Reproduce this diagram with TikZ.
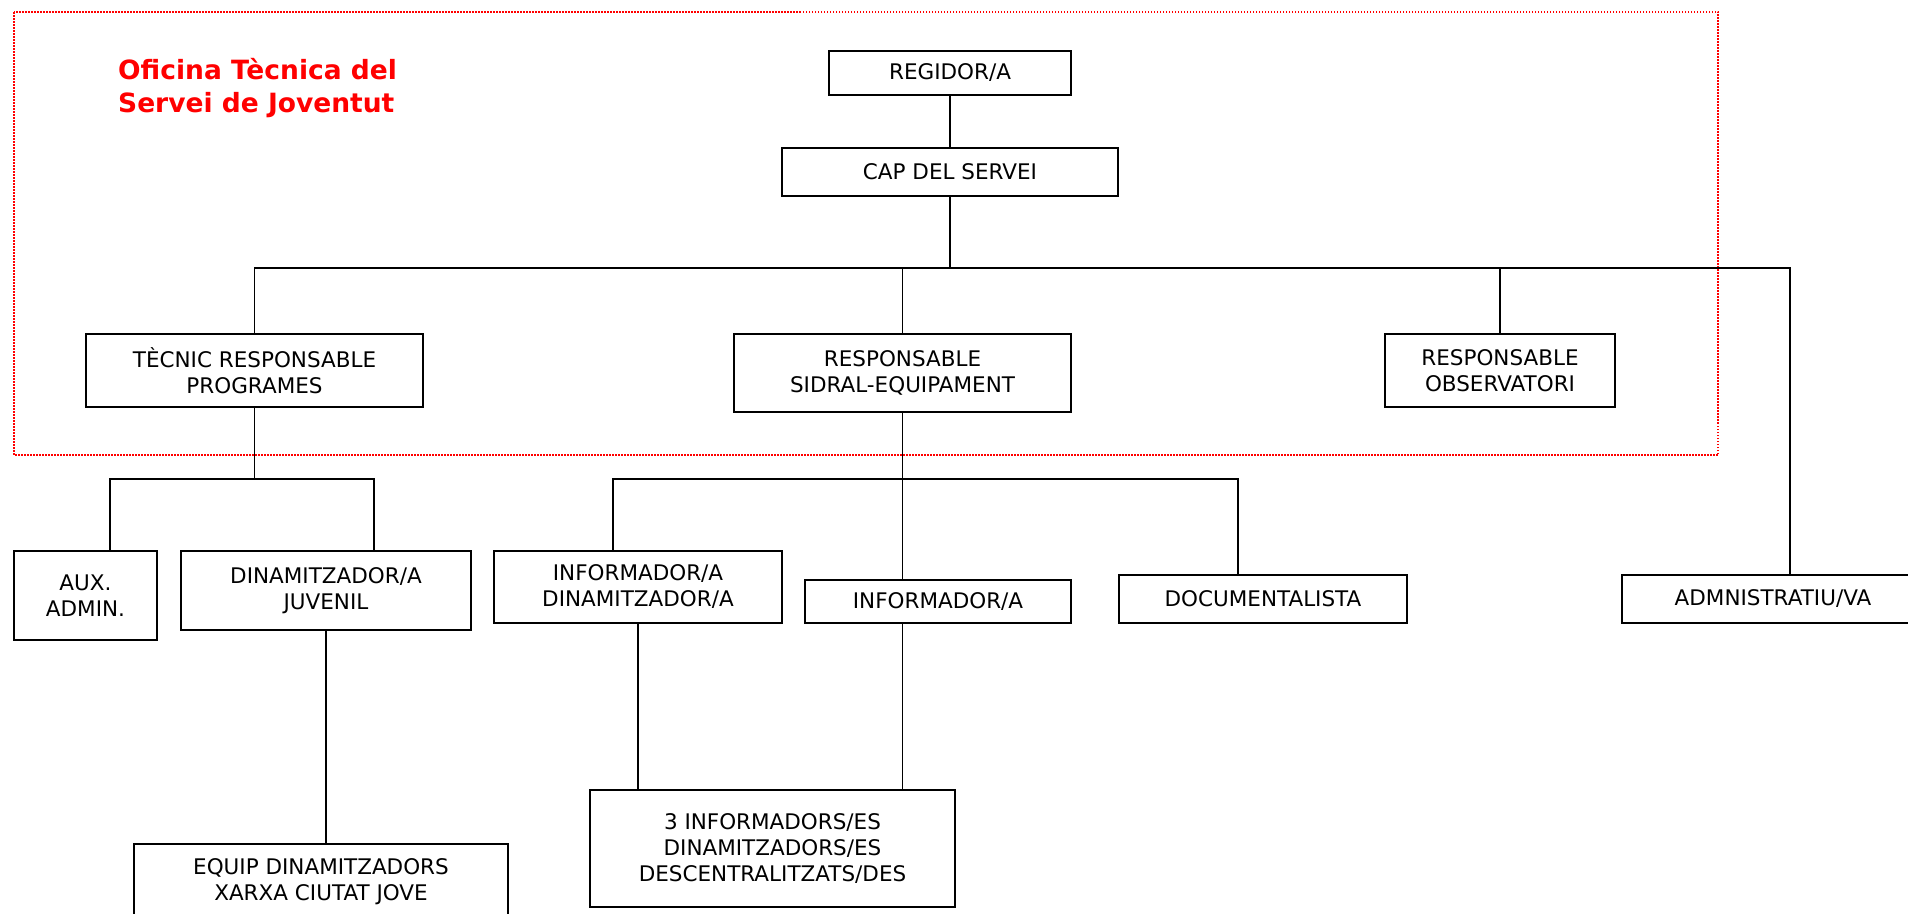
\documentclass[tikz,border=0pt]{standalone}
\usepackage{fontspec}
\setmainfont{DejaVu Sans}
\usepackage{tikz}

\begin{document}
\begin{tikzpicture}[x=1pt, y=-1pt,
  box/.style={draw, line width=1.7pt, align=center, inner sep=0pt,
    font=\fontsize{21.5}{26}\selectfont},
  conn/.style={line width=1.4pt}]
  \useasboundingbox (0,0) rectangle (1908,913);
  \clip (0,0) rectangle (1908,913);

  % Frame
  \draw[red, line width=1.5pt, dash pattern=on 1.5pt off 1.5pt] (14,12) rectangle (1718,455);
  \node[anchor=north west, inner sep=0pt, align=left, text=red,
    font=\fontsize{26.5}{33}\selectfont\bfseries] (title) at (118,58)
    {Oficina Tècnica del\\Servei de Joventut};

  % Nodes
  \node[box, minimum width=242, minimum height=44] (regidor) at (950,73) {REGIDOR/A};
  \node[box, minimum width=336, minimum height=48] (cap) at (950,172) {CAP DEL SERVEI};
  \node[box, minimum width=337, minimum height=73] (tecnic) at (254.5,370.5) {TÈCNIC RESPONSABLE\\PROGRAMES};
  \node[box, minimum width=337, minimum height=78] (sidral) at (902.5,373) {RESPONSABLE\\SIDRAL-EQUIPAMENT};
  \node[box, minimum width=230, minimum height=73] (obs) at (1500,370.5) {RESPONSABLE\\OBSERVATORI};
  \node[box, minimum width=302, minimum height=48] (admin) at (1773,599) {ADMNISTRATIU/VA};
  \node[box, minimum width=143, minimum height=89] (aux) at (85.5,595.5) {AUX.\\ADMIN.};
  \node[box, minimum width=290, minimum height=79] (dinam) at (326,590.5) {DINAMITZADOR/A\\JUVENIL};
  \node[box, minimum width=374, minimum height=76] (equip) at (321,882) {EQUIP DINAMITZADORS\\XARXA CIUTAT JOVE};
  \node[box, minimum width=288, minimum height=72] (infodin) at (638,587) {INFORMADOR/A\\DINAMITZADOR/A};
  \node[box, minimum width=266, minimum height=43] (informa) at (938,601.5) {INFORMADOR/A};
  \node[box, minimum width=288, minimum height=48] (doc) at (1263,599) {DOCUMENTALISTA};
  \node[box, minimum width=365, minimum height=117] (descent) at (772.5,848.5) {3 INFORMADORS/ES\\DINAMITZADORS/ES\\DESCENTRALITZATS/DES};

  \coordinate (bus1) at (950,268);
  \coordinate (bus2) at (254.5,479);
  \coordinate (bus3) at (902.5,479);

  % Edges
  \draw[conn] (regidor) -- (cap);
  \draw[conn] (cap) -- (bus1);
  \draw[conn] (tecnic.north) |- (bus1) -| ([xshift=17pt]admin.north);
  \draw[conn] (sidral.north) -- (sidral.north |- bus1);
  \draw[conn] (obs.north) -- (obs.north |- bus1);
  \draw[conn] (tecnic.south) -- (bus2);
  \draw[conn] ([xshift=24.5pt]aux.north) |- (bus2) -| ([xshift=48pt]dinam.north);
  \draw[conn] (dinam.south) -- (dinam.south |- equip.north);
  \draw[conn] ([xshift=-25pt]infodin.north) |- (bus3) -| ([xshift=-25pt]doc.north);
  \draw[conn] (sidral.south) -- (sidral.south |- informa.north);
  \draw[conn] (infodin.south) -- (infodin.south |- descent.north);
  \draw[conn] (sidral.south |- informa.south) -- (sidral.south |- descent.north);
\end{tikzpicture}
\end{document}
